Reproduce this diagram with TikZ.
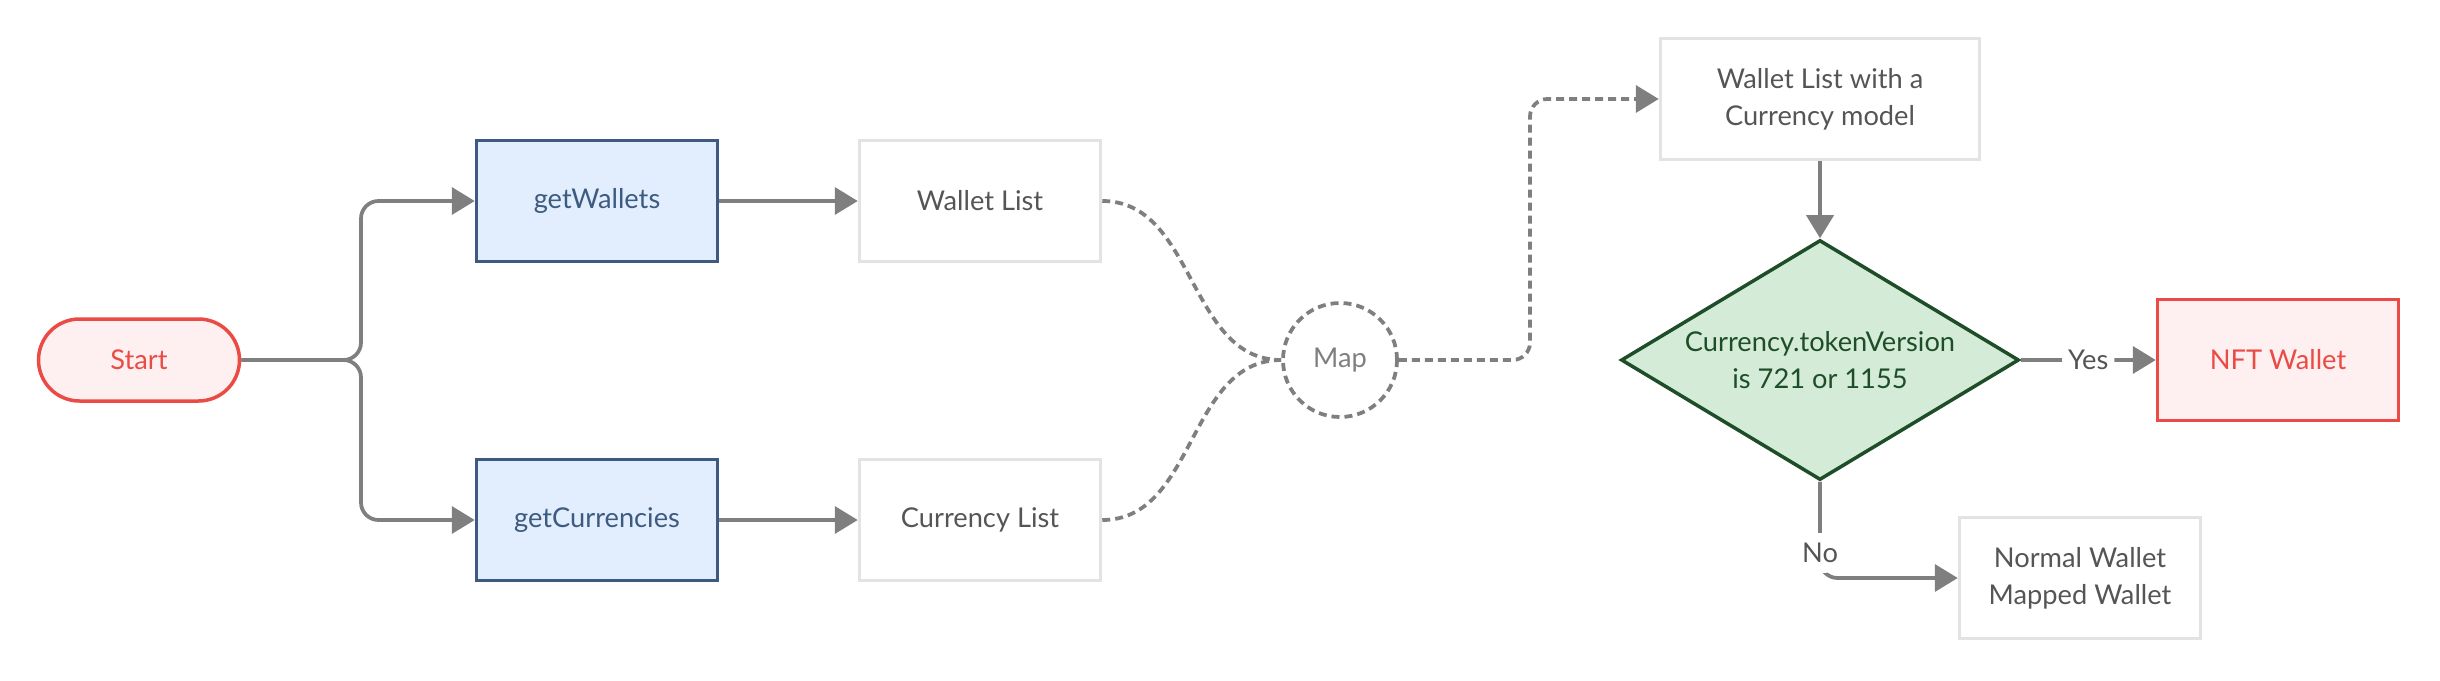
\documentclass[tikz,border=0pt]{standalone}
\usepackage{fontspec}
\setmainfont{Lato}
\usetikzlibrary{arrows.meta,shapes.geometric,positioning}

\definecolor{linegray}{HTML}{7F7F7F}
\definecolor{textgray}{HTML}{555555}
\definecolor{boxgray}{HTML}{E5E2E5}
\definecolor{startred}{HTML}{EA4B45}
\definecolor{redfill}{HTML}{FEF0F0}
\definecolor{bluefill}{HTML}{E2EEFD}
\definecolor{blueline}{HTML}{3D5A80}
\definecolor{greenfill}{HTML}{D4EBD7}
\definecolor{greenline}{HTML}{1E4E28}

\begin{document}
\begin{tikzpicture}[x=0.2mm, y=0.2mm,
  font=\fontsize{15.5}{21}\selectfont,
  box/.style={rectangle, minimum width=48.2mm, minimum height=24.2mm, line width=0.7mm, align=center},
  plainbox/.style={box, draw=boxgray, text=textgray},
  callbox/.style={box, draw=blueline, fill=bluefill, text=blueline},
  flow/.style={draw=linegray, line width=0.75mm, rounded corners=3.5mm, -{Triangle[length=4.6mm,width=5.4mm]}},
  mapline/.style={draw=linegray, line width=0.75mm, dash pattern=on 1.6mm off 1mm, rounded corners=3.5mm}]
\useasboundingbox (0,0) rectangle (2440,680);

\node[rectangle, rounded corners=8.2mm, minimum width=40.2mm, minimum height=16.4mm, line width=0.7mm, draw=startred, fill=redfill, text=startred] (start) at (139,320) {Start};
\node[callbox] (getwallets) at (597,479) {getWallets};
\node[callbox] (getcurrencies) at (597,160) {getCurrencies};
\node[plainbox] (walletlist) at (980,479) {Wallet List};
\node[plainbox] (currencylist) at (980,160) {Currency List};
\node[circle, minimum size=22.8mm, line width=0.75mm, draw=linegray, dash pattern=on 1.6mm off 1mm, text=linegray] (map) at (1340,320) {Map};
\node[plainbox, minimum width=63.8mm] (walletmodel) at (1820,581) {Wallet List with a\\Currency model};
\node[diamond, aspect=1.66, minimum width=79.6mm, minimum height=48mm, inner sep=0pt, line width=0.7mm, draw=greenline, fill=greenfill, text=greenline, align=center] (tokencheck) at (1820,320) {Currency.tokenVersion\\is 721 or 1155};
\node[box, draw=startred, fill=redfill, text=startred] (nftwallet) at (2278,320) {NFT Wallet};
\node[plainbox] (normalwallet) at (2080,102) {Normal Wallet\\Mapped Wallet};

\coordinate (split) at (361,320);
\coordinate (turn) at (1530,320);

\draw[flow] (start.east) -- (split) |- (getwallets.west);
\draw[flow] (start.east) -- (split) |- (getcurrencies.west);
\draw[flow] (getwallets) -- (walletlist);
\draw[flow] (getcurrencies) -- (currencylist);
\draw[mapline] (walletlist.east) to[out=0, in=180] (map.west);
\draw[mapline] (currencylist.east) to[out=0, in=180] (map.west);
\draw[mapline, -{Triangle[length=4.6mm,width=5.4mm]}] (map.east) -- (turn) |- (walletmodel.west);
\draw[flow] (walletmodel) -- (tokencheck);
\draw[flow] (tokencheck.east) -- node[fill=white, text=textgray, inner xsep=1.2mm] {Yes} (nftwallet.west);
\draw[flow] (tokencheck.south) |- node[pos=0.37, fill=white, text=textgray, inner xsep=1mm, inner ysep=2mm] {No} (normalwallet.west);
\end{tikzpicture}
\end{document}
